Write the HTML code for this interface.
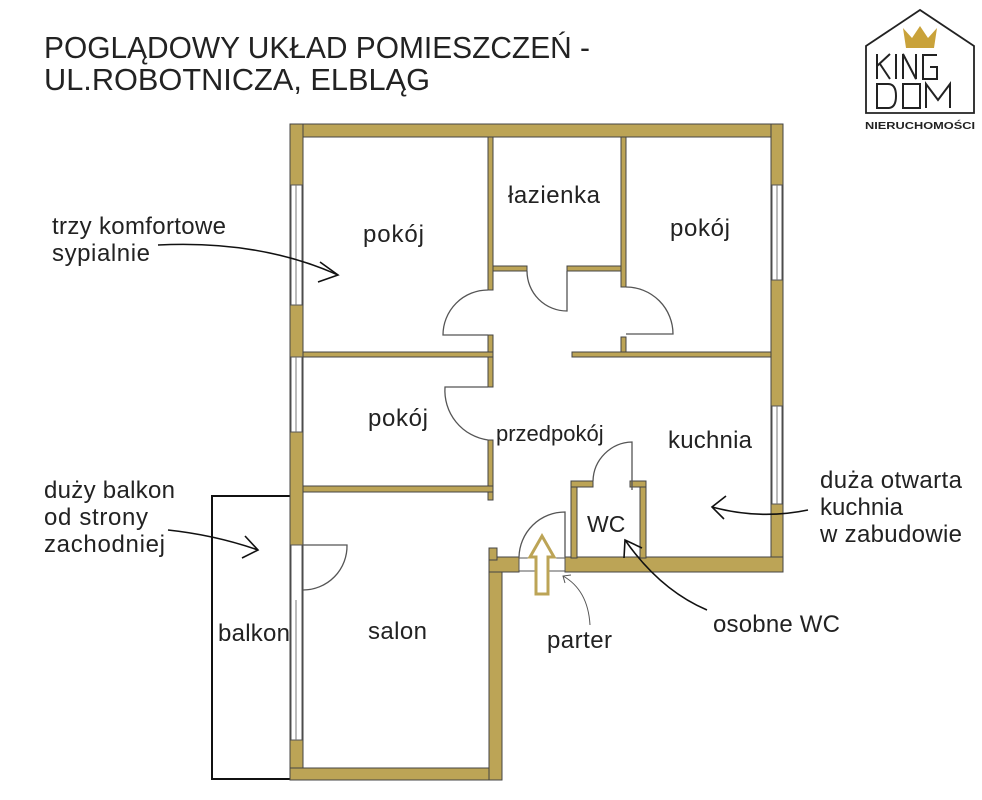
<!DOCTYPE html>
<html><head><meta charset="utf-8"><style>
html,body{margin:0;padding:0;background:#fff}
svg{display:block}
text{font-family:"Liberation Sans",sans-serif;fill:#222}
</style></head><body>
<svg width="982" height="800" viewBox="0 0 982 800" xmlns="http://www.w3.org/2000/svg">
<rect width="982" height="800" fill="#fff"/>
<text x="44" y="58" font-size="31" textLength="546" lengthAdjust="spacingAndGlyphs">POGLĄDOWY UKŁAD POMIESZCZEŃ -</text>
<text x="44" y="90" font-size="31" textLength="386" lengthAdjust="spacingAndGlyphs">UL.ROBOTNICZA, ELBLĄG</text>

<rect x="212" y="496" width="79" height="283" fill="none" stroke="#111" stroke-width="2"/>

<g fill="#bca456" stroke="#444" stroke-width="1">
<rect x="290" y="124" width="493" height="13"/>
<rect x="290" y="124" width="13" height="656"/>
<rect x="771" y="124" width="12" height="448"/>
<rect x="290" y="768" width="212" height="12"/>
<rect x="489" y="557" width="13" height="223"/>
<rect x="489" y="557" width="30" height="15"/>
<rect x="565" y="557" width="218" height="15"/>
<rect x="489" y="548" width="8" height="12"/>
<rect x="488" y="137" width="5" height="153"/>
<rect x="488" y="335" width="5" height="22"/>
<rect x="621" y="137" width="5" height="150"/>
<rect x="621" y="337" width="5" height="18"/>
<rect x="493" y="266" width="34" height="5"/>
<rect x="567" y="266" width="54" height="5"/>
<rect x="303" y="352" width="190" height="5"/>
<rect x="572" y="352" width="199" height="5"/>
<rect x="488" y="357" width="5" height="30"/>
<rect x="488" y="440" width="5" height="60"/>
<rect x="303" y="486" width="190" height="6"/>
<rect x="571" y="481" width="6" height="77"/>
<rect x="640" y="481" width="6" height="77"/>
<rect x="571" y="481" width="22" height="6"/>
<rect x="630" y="481" width="16" height="6"/>
</g>

<g fill="#fff" stroke="#555" stroke-width="1">
<rect x="291" y="185" width="11" height="120"/>
<rect x="291" y="357" width="11" height="75"/>
<rect x="291" y="545" width="11" height="195"/>
<rect x="772" y="185" width="10" height="95"/>
<rect x="772" y="406" width="10" height="98"/>
<rect x="519" y="558" width="46" height="13"/>
</g>
<g stroke="#777" stroke-width="1">
<line x1="296" y1="185" x2="296" y2="305"/>
<line x1="296" y1="357" x2="296" y2="432"/>
<line x1="296" y1="600" x2="296" y2="740"/>
<line x1="777" y1="185" x2="777" y2="280"/>
<line x1="777" y1="406" x2="777" y2="504"/>
</g>

<g fill="none" stroke="#555" stroke-width="1.3">
<path d="M488 290 A45 45 0 0 0 443 335 L488 335"/>
<path d="M527 271 A40 40 0 0 0 567 311 L567 271"/>
<path d="M626 287 A47 47 0 0 1 673 334 L626 334"/>
<path d="M488 387 L445 387 A50 50 0 0 0 488 440"/>
<path d="M632 490 L632 442 A40 40 0 0 0 593 481"/>
<path d="M565 557 L565 512 A46 46 0 0 0 519 557"/>
<path d="M303 545 L347 545 A44 44 0 0 1 303 590"/>
</g>

<path d="M542 536 L554 557 L548 557 L548 594 L536 594 L536 557 L530 557 Z" fill="#fff" stroke="#bca456" stroke-width="3"/>

<g font-size="24" lengthAdjust="spacingAndGlyphs">
<text x="363" y="242" textLength="61">pokój</text>
<text x="508" y="203" textLength="92">łazienka</text>
<text x="670" y="236" textLength="60">pokój</text>
<text x="368" y="426" textLength="60">pokój</text>
<text x="668" y="448" textLength="84">kuchnia</text>
<text x="218" y="641" textLength="72">balkon</text>
<text x="368" y="639" textLength="59">salon</text>
<text x="547" y="648" textLength="65">parter</text>
</g>
<text x="496" y="441" font-size="22">przedpokój</text>
<text x="587" y="532" font-size="23">WC</text>

<g font-size="24" lengthAdjust="spacingAndGlyphs">
<text x="52" y="234" textLength="174">trzy komfortowe</text>
<text x="52" y="261" textLength="98">sypialnie</text>
<text x="44" y="498" textLength="131">duży balkon</text>
<text x="44" y="525" textLength="104">od strony</text>
<text x="44" y="552" textLength="121">zachodniej</text>
<text x="820" y="488" textLength="142">duża otwarta</text>
<text x="820" y="515" textLength="83">kuchnia</text>
<text x="820" y="542" textLength="142">w zabudowie</text>
<text x="713" y="632" textLength="127">osobne WC</text>
</g>

<g fill="none" stroke="#111" stroke-width="1.6">
<path d="M158 245 Q260 240 338 275"/>
<path d="M320 262 L338 275 L318 282"/>
<path d="M168 530 Q215 535 258 550"/>
<path d="M245 536 L258 550 L242 558"/>
<path d="M808 510 Q760 520 712 507"/>
<path d="M726 496 L712 507 L724 519"/>
<path d="M707 610 Q660 590 625 540"/>
<path d="M624 558 L625 540 L642 548"/>
</g>
<g fill="none" stroke="#555" stroke-width="1">
<path d="M590 625 Q588 590 563 576"/>
<path d="M565 583 L563 576 L571 575"/>
</g>

<g fill="none" stroke="#222" stroke-width="1.8">
<path d="M866 113 L866 46 L920 10 L974 46 L974 113 Z"/>
</g>
<path d="M903 28 L912 38 L920 26 L928 38 L937 28 L934 48 L906 48 Z" fill="#c9a23a"/>
<g fill="none" stroke="#222" stroke-width="2">
<path d="M877 54 L877 79 M877 66 L890 54 M880 64 L890 79"/>
<path d="M896 54 L896 79"/>
<path d="M903 79 L903 54 L916 79 L916 54"/>
<path d="M937 55 L923 55 L923 79 L937 79 L937 67 L930 67"/>
<path d="M877 84 L877 108 L888 108 Q896 108 896 96 Q896 84 888 84 Z"/>
<path d="M903 84 L920 84 L920 108 L903 108 Z"/>
<path d="M926 108 L926 84 L938 100 L950 84 L950 108"/>
</g>
<text x="865" y="129" font-size="10.5" font-weight="bold" textLength="110" lengthAdjust="spacingAndGlyphs">NIERUCHOMOŚCI</text>
</svg>
</body></html>
